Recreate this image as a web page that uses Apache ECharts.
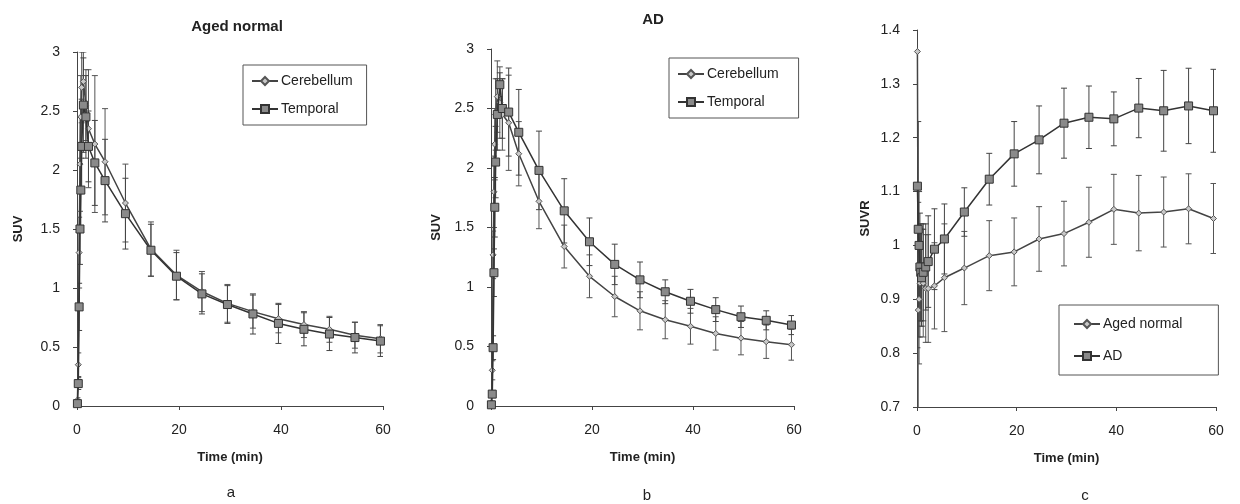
<!DOCTYPE html>
<html>
<head>
<meta charset="utf-8">
<script src="https://cdn.jsdelivr.net/npm/echarts@6/dist/echarts.min.js"></script>
<style>
html,body{margin:0;padding:0;background:#fff;}
#chart{width:1240px;height:504px;}
</style>
</head>
<body>
<div id="chart"></div>
<script>
// Frame mid-times (min)
const times = [0.083, 0.25, 0.417, 0.583, 0.75, 0.917, 1.25, 1.75, 2.25, 3.5, 5.5, 9.5, 14.5, 19.5, 24.5, 29.5, 34.5, 39.5, 44.5, 49.5, 54.5, 59.5];

// Panel a: Aged normal (SUV)
const aCereb   = [0.05, 0.35, 1.30, 2.05, 2.45, 2.70, 2.75, 2.55, 2.35, 2.22, 2.07, 1.72, 1.33, 1.11, 0.97, 0.87, 0.80, 0.74, 0.69, 0.65, 0.60, 0.57];
const aCerebSD = [0.02, 0.10, 0.30, 0.40, 0.35, 0.30, 0.25, 0.30, 0.50, 0.58, 0.45, 0.33, 0.23, 0.21, 0.17, 0.16, 0.14, 0.12, 0.11, 0.11, 0.11, 0.12];
const aTemp    = [0.02, 0.19, 0.84, 1.50, 1.83, 2.20, 2.55, 2.45, 2.20, 2.06, 1.91, 1.63, 1.32, 1.10, 0.95, 0.86, 0.78, 0.70, 0.65, 0.61, 0.58, 0.55];
const aTempSD  = [0.01, 0.05, 0.20, 0.30, 0.35, 0.40, 0.40, 0.35, 0.30, 0.36, 0.35, 0.30, 0.22, 0.20, 0.17, 0.16, 0.17, 0.17, 0.14, 0.14, 0.13, 0.13];

// Panel b: AD (SUV)
const bCereb   = [0.03, 0.30, 1.27, 1.80, 2.20, 2.45, 2.60, 2.55, 2.45, 2.38, 2.12, 1.72, 1.34, 1.09, 0.92, 0.80, 0.725, 0.67, 0.61, 0.57, 0.54, 0.515];
const bCerebSD = [0.01, 0.08, 0.20, 0.30, 0.30, 0.30, 0.30, 0.30, 0.30, 0.40, 0.27, 0.23, 0.18, 0.18, 0.17, 0.16, 0.16, 0.15, 0.14, 0.14, 0.14, 0.13];
const bTemp    = [0.01, 0.10, 0.49, 1.12, 1.67, 2.05, 2.45, 2.70, 2.50, 2.47, 2.30, 1.98, 1.64, 1.38, 1.19, 1.06, 0.96, 0.88, 0.81, 0.75, 0.72, 0.68];
const bTempSD  = [0.005, 0.03, 0.10, 0.20, 0.25, 0.30, 0.30, 0.10, 0.25, 0.37, 0.36, 0.33, 0.27, 0.20, 0.17, 0.15, 0.10, 0.10, 0.10, 0.09, 0.08, 0.08];

// Panel c: SUVR
const cNormal   = [1.36, 0.88, 0.90, 0.93, 0.95, 0.94, 0.93, 0.92, 0.92, 0.925, 0.94, 0.958, 0.981, 0.988, 1.012, 1.022, 1.043, 1.067, 1.060, 1.062, 1.068, 1.050];
const cNormalSD = [0.50, 0.20, 0.12, 0.10, 0.09, 0.09, 0.10, 0.10, 0.10, 0.08, 0.10, 0.068, 0.065, 0.063, 0.060, 0.060, 0.065, 0.065, 0.070, 0.065, 0.065, 0.065];
const cAD       = [1.11, 1.03, 1.00, 0.96, 0.95, 0.94, 0.95, 0.96, 0.97, 0.993, 1.012, 1.062, 1.123, 1.170, 1.196, 1.227, 1.238, 1.235, 1.255, 1.250, 1.259, 1.250];
const cADSD     = [0.30, 0.20, 0.10, 0.10, 0.09, 0.09, 0.09, 0.08, 0.085, 0.075, 0.065, 0.045, 0.048, 0.060, 0.063, 0.065, 0.058, 0.050, 0.055, 0.075, 0.070, 0.077];

const xTicks = [0, 20, 40, 60];

const FONT = '"Liberation Sans", Arial, sans-serif';
const TXT = '#222';

function pts(v){ return times.map((t,i)=>[t, v[i]]); }
function errData(v, sd){ return times.map((t,i)=>[t, v[i]-sd[i], v[i]+sd[i]]); }

function errSeries(idx, v, sd, color){
  return {
    type:'custom', xAxisIndex:idx, yAxisIndex:idx, clip:true, silent:true, z:1,
    data: errData(v, sd),
    encode:{x:0, y:[1,2]},
    renderItem:function(params, api){
      const lo = api.coord([api.value(0), api.value(1)]);
      const hi = api.coord([api.value(0), api.value(2)]);
      const w = 3;
      const st = {stroke:color, lineWidth:1};
      return {type:'group', children:[
        {type:'line', shape:{x1:lo[0], y1:lo[1], x2:hi[0], y2:hi[1]}, style:st},
        {type:'line', shape:{x1:lo[0]-w, y1:lo[1], x2:lo[0]+w, y2:lo[1]}, style:st},
        {type:'line', shape:{x1:hi[0]-w, y1:hi[1], x2:hi[0]+w, y2:hi[1]}, style:st}
      ]};
    }
  };
}

function diamondSeries(idx, name, v){
  return {type:'line', name:name, xAxisIndex:idx, yAxisIndex:idx, data:pts(v), z:3,
    symbol:'diamond', symbolSize:6, showAllSymbol:true, clip:true,
    lineStyle:{color:'#444', width:1.5},
    itemStyle:{color:'#c8c8c8', borderColor:'#555', borderWidth:1}};
}
function squareSeries(idx, name, v){
  return {type:'line', name:name, xAxisIndex:idx, yAxisIndex:idx, data:pts(v), z:4,
    symbol:'rect', symbolSize:8, showAllSymbol:true, clip:true,
    lineStyle:{color:'#333', width:1.5},
    itemStyle:{color:'#8a8a8a', borderColor:'#333', borderWidth:1}};
}

function xAxis(idx){
  return {type:'value', gridIndex:idx, min:0, max:60, interval:20,
    name:'Time (min)', nameLocation:'middle', nameGap:45,
    nameTextStyle:{fontFamily:FONT, fontWeight:'bold', fontSize:13, color:TXT},
    axisLine:{show:true, lineStyle:{color:'#444', width:1}},
    axisTick:{show:true, length:4, lineStyle:{color:'#444'}},
    axisLabel:{fontFamily:FONT, fontSize:14, color:TXT, margin:17},
    splitLine:{show:false}};
}
function yAxis(idx, name, min, max, interval, gap){
  return {type:'value', gridIndex:idx, min:min, max:max, interval:interval,
    name:name, nameLocation:'middle', nameGap:gap, nameRotate:90,
    nameTextStyle:{fontFamily:FONT, fontWeight:'bold', fontSize:13, color:TXT},
    axisLine:{show:true, lineStyle:{color:'#444', width:1}},
    axisTick:{show:true, length:4, lineStyle:{color:'#444'}},
    axisLabel:{fontFamily:FONT, fontSize:14, color:TXT, margin:17,
      formatter:function(v){ return String(Math.round(v*10)/10); }},
    splitLine:{show:false}};
}

function legend(names, left, top, padding, gap){
  return {orient:'vertical', left:left, top:top,
    data:names, itemWidth:26, itemHeight:10, itemGap:gap,
    padding:padding, borderColor:'#555', borderWidth:1, backgroundColor:'#fff',
    textStyle:{fontFamily:FONT, fontSize:14, color:TXT, padding:[0,0,0,-2]}};
}

const chart = echarts.init(document.getElementById('chart'), null, {renderer:'canvas'});
chart.setOption({
  animation:false,
  backgroundColor:'#fff',
  grid:[
    {left:77, top:52, width:306, height:354},
    {left:491, top:49, width:303, height:357},
    {left:917, top:30, width:299, height:377}
  ],
  xAxis:[xAxis(0), xAxis(1), xAxis(2)],
  yAxis:[
    yAxis(0, 'SUV', 0, 3, 0.5, 52),
    yAxis(1, 'SUV', 0, 3, 0.5, 48),
    yAxis(2, 'SUVR', 0.7, 1.4, 0.1, 45)
  ],
  legend:[
    legend(['Cerebellum','Temporal'], 243, 65, [9, 14, 9, 8], 14),
    legend(['Cerebellum','Temporal'], 669, 58, [9, 20, 9, 8], 14),
    legend(['Aged normal','AD'], 1059, 305, [12, 36, 12, 14], 18)
  ],
  graphic:[
    {type:'text', x:237, y:27, style:{text:'Aged normal', font:'bold 15px '+FONT, fill:TXT, textAlign:'center', textVerticalAlign:'middle'}},
    {type:'text', x:653, y:20, style:{text:'AD', font:'bold 15px '+FONT, fill:TXT, textAlign:'center', textVerticalAlign:'middle'}},
    {type:'text', x:231, y:493, style:{text:'a', font:'15px '+FONT, fill:TXT, textAlign:'center', textVerticalAlign:'middle'}},
    {type:'text', x:647, y:496, style:{text:'b', font:'15px '+FONT, fill:TXT, textAlign:'center', textVerticalAlign:'middle'}},
    {type:'text', x:1085, y:496, style:{text:'c', font:'15px '+FONT, fill:TXT, textAlign:'center', textVerticalAlign:'middle'}}
  ],
  series:[
    errSeries(0, aCereb, aCerebSD, '#555'),
    errSeries(0, aTemp, aTempSD, '#444'),
    diamondSeries(0, 'Cerebellum', aCereb),
    squareSeries(0, 'Temporal', aTemp),
    errSeries(1, bCereb, bCerebSD, '#555'),
    errSeries(1, bTemp, bTempSD, '#444'),
    diamondSeries(1, 'Cerebellum', bCereb),
    squareSeries(1, 'Temporal', bTemp),
    errSeries(2, cNormal, cNormalSD, '#555'),
    errSeries(2, cAD, cADSD, '#444'),
    diamondSeries(2, 'Aged normal', cNormal),
    squareSeries(2, 'AD', cAD)
  ]
});
</script>
</body>
</html>
